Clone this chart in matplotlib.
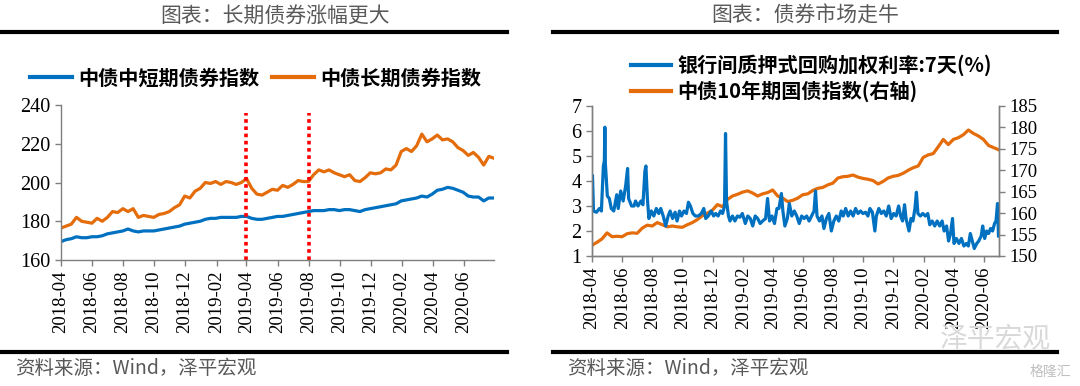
import matplotlib
matplotlib.use("Agg")
import matplotlib.pyplot as plt
import matplotlib.dates as mdates
from matplotlib.lines import Line2D
import pandas as pd

CJK = ["Noto Sans CJK SC", "DejaVu Sans"]
BLUE = "#0070c0"
ORANGE = "#e46c0a"
GRAY = "#7f7f7f"

plt.rcParams["font.family"] = "serif"
plt.rcParams["font.serif"] = ["Liberation Serif", "DejaVu Serif"]

# ---- left chart data (roughly every 10 days, 2018-04-01 .. 2020-07-31) ----
left_start, left_end = "2018-04-01", "2020-07-31"
long_bond_index = [
    176.5, 177.5, 178.5, 182, 180, 179.5, 179, 181.5, 180, 182, 185, 184.5,
    186.5, 185, 186.5, 182, 183, 182.5, 182, 183.5, 184, 185, 187, 188.5,
    193, 192, 195.5, 197, 200, 199.5, 200.5, 199, 200.5, 200, 199, 200,
    202, 197, 194, 193.5, 195, 196.5, 196, 198.5, 197.5, 199, 201, 200.5,
    200.5, 204, 206.5, 205.5, 206.5, 205, 204, 203, 204, 201, 200.5, 202.5,
    205, 204.5, 205, 207, 206.5, 209, 216, 217.5, 216, 219, 225, 221,
    222.5, 224.5, 222, 222.5, 221, 218, 216.5, 214, 215.5, 213, 209, 213.5, 212.5,
]
short_bond_index = [
    169.5, 170.5, 171, 172, 171.5, 171.5, 172, 172, 172.5, 173.5, 174, 174.5,
    175, 176, 175, 174.5, 175, 175, 175, 175.5, 176, 176.5, 177, 177.5,
    178.5, 179, 179.5, 180, 181, 181.5, 181.5, 182, 182, 182, 182, 182.5,
    182.5, 181.5, 181, 181, 181.5, 182, 182.5, 182.5, 183, 183.5, 184, 184.5,
    185, 185.5, 185.5, 185.5, 186, 186, 185.5, 186, 186, 185.5, 185, 186,
    186.5, 187, 187.5, 188, 188.5, 189, 190.5, 191, 191.5, 192, 193, 192.5,
    194, 196, 196.5, 197.5, 197, 196, 195, 193, 192.5, 192.5, 190.5, 192, 192,
]
marker_dates = ["2019-04-01", "2019-08-01"]

# ---- right chart data ----
right_start, right_end = "2018-04-01", "2020-07-01"
gov10y_index = [
    152.5, 153.2, 154, 155.4, 154.5, 154.6, 154.5, 155.2, 155.4, 155.3, 156.5, 157.2,
    157, 157.8, 157.3, 156.8, 157, 156.8, 156.7, 157.3, 157.8, 158.5, 159.4, 160,
    160.7, 162, 161.5, 163.2, 164, 164.4, 164.9, 165.2, 164.7, 164, 164.5, 164.8,
    165.4, 164, 163.5, 162.7, 163, 163.5, 164.3, 164.5, 165.3, 165.8, 166, 166.6,
    167, 168.2, 168.5, 168.6, 168.9, 168.4, 168.1, 167.9, 167.6, 166.8, 167.4, 168.2,
    168.6, 168.8, 169.3, 170, 170.6, 171, 173, 173.6, 173.9, 175.5, 177.2, 176,
    177.2, 177.6, 178.3, 179.4, 178.6, 178, 177.2, 175.8, 175.3, 174.8,
]
repo_dates = [
    "2018-04-02", "2018-04-04", "2018-04-10", "2018-04-16", "2018-04-20", "2018-04-24",
    "2018-04-26", "2018-04-27", "2018-04-28", "2018-05-02", "2018-05-06", "2018-05-10",
    "2018-05-15", "2018-05-21", "2018-05-24", "2018-05-29", "2018-06-03", "2018-06-08",
    "2018-06-12", "2018-06-14", "2018-06-20", "2018-06-25", "2018-06-28", "2018-07-03",
    "2018-07-09", "2018-07-13", "2018-07-17", "2018-07-19", "2018-07-22", "2018-07-25",
    "2018-07-30", "2018-08-04", "2018-08-09", "2018-08-14", "2018-08-18", "2018-08-23",
    "2018-08-28", "2018-09-02", "2018-09-06", "2018-09-11", "2018-09-16", "2018-09-20",
    "2018-09-25", "2018-09-29", "2018-10-04", "2018-10-09", "2018-10-13", "2018-10-17",
    "2018-10-22", "2018-10-27", "2018-11-02", "2018-11-08", "2018-11-13", "2018-11-17",
    "2018-11-22", "2018-11-28", "2018-12-03", "2018-12-07", "2018-12-12", "2018-12-17",
    "2018-12-21", "2018-12-25", "2018-12-27", "2018-12-29", "2019-01-02", "2019-01-05",
    "2019-01-10", "2019-01-15", "2019-01-20", "2019-01-25", "2019-01-30", "2019-02-05",
    "2019-02-10", "2019-02-15", "2019-02-20", "2019-02-25", "2019-03-02", "2019-03-07",
    "2019-03-12", "2019-03-18", "2019-03-22", "2019-03-26", "2019-03-31", "2019-04-05",
    "2019-04-10", "2019-04-14", "2019-04-19", "2019-04-22", "2019-04-26", "2019-05-01",
    "2019-05-05", "2019-05-10", "2019-05-15", "2019-05-20", "2019-05-25", "2019-05-30",
    "2019-06-04", "2019-06-09", "2019-06-14", "2019-06-19", "2019-06-24", "2019-06-27",
    "2019-06-30", "2019-07-05", "2019-07-10", "2019-07-14", "2019-07-19", "2019-07-24",
    "2019-07-29", "2019-08-03", "2019-08-08", "2019-08-13", "2019-08-18", "2019-08-22",
    "2019-08-27", "2019-09-01", "2019-09-06", "2019-09-11", "2019-09-16", "2019-09-21",
    "2019-09-26", "2019-10-01", "2019-10-06", "2019-10-11", "2019-10-15", "2019-10-20",
    "2019-10-25", "2019-10-28", "2019-11-02", "2019-11-07", "2019-11-12", "2019-11-17",
    "2019-11-22", "2019-11-27", "2019-12-02", "2019-12-07", "2019-12-12", "2019-12-16",
    "2019-12-20", "2019-12-24", "2019-12-27", "2020-01-02", "2020-01-06", "2020-01-10",
    "2020-01-14", "2020-01-17", "2020-01-20", "2020-01-25", "2020-01-30", "2020-02-04",
    "2020-02-09", "2020-02-13", "2020-02-18", "2020-02-23", "2020-02-28", "2020-03-04",
    "2020-03-09", "2020-03-13", "2020-03-18", "2020-03-22", "2020-03-26", "2020-03-30",
    "2020-04-02", "2020-04-07", "2020-04-12", "2020-04-17", "2020-04-22", "2020-04-27",
    "2020-05-01", "2020-05-05", "2020-05-09", "2020-05-13", "2020-05-18", "2020-05-22",
    "2020-05-27", "2020-05-30", "2020-06-03", "2020-06-07", "2020-06-11", "2020-06-15",
    "2020-06-19", "2020-06-23", "2020-06-26", "2020-06-29", "2020-07-01",
]
repo_rate = [
    4.2, 2.8, 2.75, 2.9, 2.8, 4.6, 4.8, 6.15, 4.7, 3.4, 3.3, 2.9,
    2.8, 3.45, 2.9, 3.6, 3.2, 3.8, 4.5, 3.3, 3.0, 3.0, 3.2, 3.0,
    3.2, 3.05, 4.4, 4.6, 3.3, 2.5, 2.8, 2.6, 2.9, 2.7, 2.9, 2.6,
    2.2, 2.6, 2.8, 2.5, 2.75, 2.4, 2.8, 2.6, 2.8, 2.7, 3.15, 3.0,
    2.7, 2.6, 2.6, 2.7, 2.9, 2.5, 2.6, 2.8, 2.6, 2.7, 2.6, 2.8,
    2.7, 3.0, 5.9, 3.2, 2.6, 2.4, 2.6, 2.4, 2.6, 2.55, 2.7, 2.3,
    2.6, 2.5, 2.2, 2.6, 2.5, 2.3, 2.4, 2.5, 3.3, 2.4, 2.6, 2.3,
    2.9, 2.9, 3.5, 2.8, 2.2, 2.5, 3.1, 2.6, 2.8, 2.6, 2.3, 2.6,
    2.5, 2.6, 2.4, 2.6, 2.8, 3.6, 2.6, 2.4, 2.6, 2.1, 2.5, 2.7,
    2.0, 2.4, 2.6, 2.4, 2.8, 2.6, 2.9, 2.6, 2.8, 2.6, 2.9, 2.7,
    2.8, 2.7, 2.75, 2.6, 2.9, 2.75, 2.0, 2.6, 2.9, 2.7, 2.8, 2.6,
    3.0, 2.5, 2.7, 2.6, 3.0, 2.6, 2.4, 3.05, 2.5, 2.0, 2.5, 2.4,
    2.9, 3.55, 2.7, 2.6, 2.7, 2.6, 2.7, 2.25, 2.4, 2.2, 2.4, 2.2,
    2.4, 2.0, 2.2, 1.6, 1.9, 2.5, 1.5, 1.7, 1.5, 1.7, 1.4, 1.5,
    1.4, 1.9, 1.6, 1.3, 1.5, 1.6, 1.8, 2.2, 1.7, 2.0, 1.9, 2.1,
    2.0, 2.3, 2.4, 3.1, 1.8,
]

W, H = 1080, 386


def box(x0, y0, x1, y1):
    # pixel box (top-left origin) -> figure fraction rect
    return [x0 / W, 1 - y1 / H, (x1 - x0) / W, (y1 - y0) / H]


def hline(fig, x0, x1, y, lw):
    fig.add_artist(Line2D([x0 / W, x1 / W], [1 - y / H, 1 - y / H],
                          transform=fig.transFigure, color="black", lw=lw))


def style_axis(ax):
    for side in ("left", "right", "bottom", "top"):
        ax.spines[side].set_color(GRAY)
        ax.spines[side].set_linewidth(1.0)
    ax.tick_params(colors=GRAY, labelcolor="black", length=4, width=1.0,
                   direction="out", labelsize=13.5)
    ax.tick_params(axis="x", labelrotation=90)
    ax.xaxis.set_major_locator(mdates.MonthLocator(bymonth=[2, 4, 6, 8, 10, 12]))
    ax.xaxis.set_major_formatter(mdates.DateFormatter("%Y-%m"))


fig = plt.figure(figsize=(10.8, 3.86), dpi=100)

# ---------------- left panel ----------------
ax1 = fig.add_axes(box(61, 105, 494, 260))
left_x = pd.date_range(left_start, left_end, periods=len(long_bond_index))
ax1.plot(left_x, short_bond_index, color=BLUE, lw=2.3, label="中债中短期债券指数")
ax1.plot(left_x, long_bond_index, color=ORANGE, lw=2.3, label="中债长期债券指数")
for d in marker_dates:
    ax1.plot([pd.Timestamp(d)] * 2, [160, 236], color="#ff0000", lw=2.6,
             linestyle=(0, (1, 1)), clip_on=False)
ax1.set_xlim(pd.Timestamp(left_start), pd.Timestamp(left_end))
ax1.set_ylim(160, 240)
ax1.set_yticks([160, 180, 200, 220, 240])
ax1.spines["top"].set_visible(False)
ax1.spines["right"].set_visible(False)
style_axis(ax1)
ax1.tick_params(axis="y", labelsize=14.5)
leg1 = ax1.legend(loc="center left", bbox_to_anchor=(-0.09, 1.0 + 27 / 155),
                  ncol=2, frameon=False, handlelength=2.1, handletextpad=0.3,
                  columnspacing=0.6, borderaxespad=0,
                  prop={"family": CJK, "size": 14.5, "weight": "bold"})
for ln in leg1.get_lines():
    ln.set_linewidth(3)

fig.text(275 / W, 1 - 16 / H, "图表：长期债券涨幅更大", ha="center", va="center",
         family=CJK, fontsize=15, color="#595959")
hline(fig, 2, 507, 32, 3.0)
hline(fig, 2, 507, 352, 3.0)
fig.text(15 / W, 1 - 369 / H, "资料来源：Wind，泽平宏观", ha="left", va="center",
         family=CJK, fontsize=14, color="#595959", style="italic")

# ---------------- right panel ----------------
ax2 = fig.add_axes(box(592, 106, 999, 256))
ax3 = ax2.twinx()
right_x = pd.date_range(right_start, right_end, periods=len(gov10y_index))
l_repo, = ax2.plot(pd.to_datetime(repo_dates), repo_rate, color=BLUE, lw=2.3,
                   label="银行间质押式回购加权利率:7天(%)")
l_gov, = ax3.plot(right_x, gov10y_index, color=ORANGE, lw=2.3,
                  label="中债10年期国债指数(右轴)")
ax2.set_zorder(ax3.get_zorder() + 1)
ax2.patch.set_visible(False)
ax2.set_xlim(pd.Timestamp(right_start), pd.Timestamp("2020-07-02"))
ax2.set_ylim(1, 7)
ax2.set_yticks(range(1, 8))
ax3.set_ylim(150, 185)
ax3.set_yticks(range(150, 186, 5))
for a in (ax2, ax3):
    a.spines["top"].set_visible(False)
    style_axis(a)
ax2.tick_params(axis="y", labelsize=14.5)
ax3.tick_params(axis="y", labelsize=13.5)
leg2 = ax2.legend(handles=[l_repo, l_gov], loc="lower left",
                  bbox_to_anchor=(31 / 407, 1.0 - 4 / 150), ncol=1, frameon=False,
                  handlelength=2.0, handletextpad=0.3, labelspacing=0.2,
                  borderaxespad=0,
                  prop={"family": CJK, "size": 14.5, "weight": "bold"})
for ln in leg2.get_lines():
    ln.set_linewidth(3)

fig.text(805 / W, 1 - 16 / H, "图表：债券市场走牛", ha="center", va="center",
         family=CJK, fontsize=15, color="#595959")
hline(fig, 553, 1057, 32, 3.0)
hline(fig, 553, 1057, 352, 3.0)
fig.text(567 / W, 1 - 369 / H, "资料来源：Wind，泽平宏观", ha="left", va="center",
         family=CJK, fontsize=14, color="#595959", style="italic")

# watermarks
fig.text(940 / W, 1 - 338 / H, "泽平宏观", ha="left", va="center",
         family=CJK, fontsize=20, color="#d9d9d9")
fig.text(1030 / W, 1 - 372 / H, "格隆汇", ha="left", va="center",
         family=CJK, fontsize=10, color="#bfbfbf")

fig.savefig("out.png", dpi=100)
